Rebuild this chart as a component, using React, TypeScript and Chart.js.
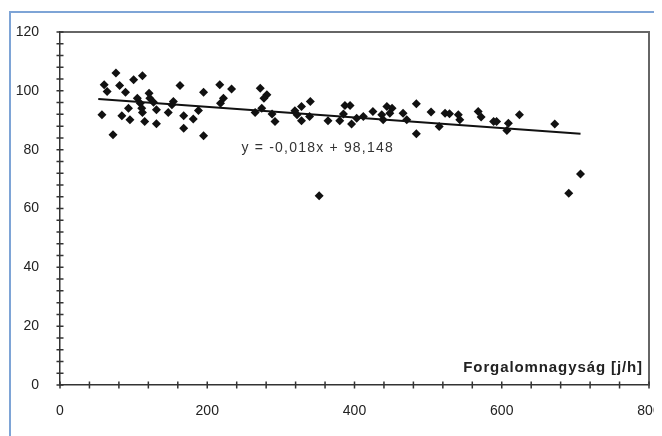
import React, { useEffect, useRef } from 'react';
import { Chart, registerables } from 'chart.js';

Chart.register(...registerables);

// Scatter data (x: Forgalomnagyság [j/h], y: value)
const X_VALUES = [
  76, 112, 100, 60, 81, 64, 89, 163, 195, 121, 105, 122, 109, 127, 154, 152, 93, 111, 131, 147,
  188, 57, 84, 112, 95, 115, 131, 168, 181, 168, 72, 195, 217, 233, 222, 218, 272, 281, 277, 274,
  265, 288, 292, 319, 322, 328, 340, 339, 328, 364, 380, 385, 387, 394, 396, 403, 412, 425, 437, 439,
  444, 451, 448, 466, 471, 484, 484, 504, 515, 523, 529, 541, 543, 568, 572, 589, 593, 609, 607, 624,
  672, 707, 691, 352,
];
const Y_VALUES = [
  106.1, 105.1, 103.8, 102.1, 101.8, 99.8, 99.5, 101.8, 99.5, 99.2, 97.5, 97.5, 95.8, 96.1, 96.4, 95.3, 94.1, 94.1, 93.6, 92.6,
  93.3, 91.9, 91.5, 92.6, 90.2, 89.6, 88.8, 91.5, 90.4, 87.3, 85.1, 84.7, 102.1, 100.6, 97.5, 95.8, 100.9, 98.7, 97.5, 94.1,
  92.6, 92.1, 89.6, 93.2, 91.9, 94.7, 96.4, 91.3, 89.8, 89.8, 89.8, 92.1, 95, 95, 88.7, 90.7, 91.3, 93, 91.9, 90.2,
  94.7, 94.1, 92.4, 92.4, 90.2, 95.6, 85.4, 92.8, 87.9, 92.4, 92.2, 91.9, 90.2, 93, 91.1, 89.6, 89.6, 89, 86.5, 91.9,
  88.7, 71.7, 65.2, 64.3,
];

// Linear trend line: y = -0,018x + 98,148
const TREND_SLOPE = -0.018;
const TREND_INTERCEPT = 98.148;
const TREND_X = [52, 707];

const X_MIN = 0;
const X_MAX = 800;
const X_MAJOR = 200;
const X_MINOR = 40;
const Y_MIN = 0;
const Y_MAX = 120;
const Y_MAJOR = 20;
const Y_MINOR = 4;

const EQUATION_TEXT = 'y = -0,018x + 98,148';
const EQUATION_POS = [350, 80.6];
const X_TITLE = 'Forgalomnagyság [j/h]';

const W = 654;
const H = 428;

const decorPlugin = {
  id: 'decor',
  afterDraw(chart: any) {
    const { ctx, chartArea, scales } = chart;
    const xs = scales.x;
    const ys = scales.y;
    ctx.save();
    // top and right frame lines
    ctx.strokeStyle = '#666';
    ctx.lineWidth = 2;
    ctx.beginPath();
    ctx.moveTo(chartArea.left, chartArea.top);
    ctx.lineTo(chartArea.right, chartArea.top);
    ctx.lineTo(chartArea.right, chartArea.bottom);
    ctx.stroke();

    // crossing tick marks
    ctx.strokeStyle = '#333';
    ctx.lineWidth = 1.5;
    ctx.beginPath();
    for (let v = Y_MIN; v <= Y_MAX; v += Y_MINOR) {
      const py = ys.getPixelForValue(v);
      ctx.moveTo(chartArea.left - 3.5, py);
      ctx.lineTo(chartArea.left + 3.5, py);
    }
    for (let v = X_MIN; v <= X_MAX; v += X_MINOR) {
      const px = xs.getPixelForValue(v);
      ctx.moveTo(px, chartArea.bottom - 3.5);
      ctx.lineTo(px, chartArea.bottom + 3.5);
    }
    ctx.stroke();

    // equation
    ctx.fillStyle = '#333';
    ctx.font = '14px Arial, "Liberation Sans", sans-serif';
    (ctx as any).letterSpacing = '1.2px';
    ctx.textAlign = 'center';
    ctx.textBaseline = 'middle';
    ctx.fillText(EQUATION_TEXT, xs.getPixelForValue(EQUATION_POS[0]), ys.getPixelForValue(EQUATION_POS[1]));

    // axis title
    ctx.fillStyle = '#222';
    ctx.font = 'bold 15px Arial, "Liberation Sans", sans-serif';
    (ctx as any).letterSpacing = '0.9px';
    ctx.textAlign = 'right';
    ctx.textBaseline = 'middle';
    ctx.fillText(X_TITLE, chartArea.right - 6, chartArea.bottom - 17);
    ctx.restore();
  },
};

export default function App() {
  const canvasRef = useRef<HTMLCanvasElement>(null);

  useEffect(() => {
    const canvas = canvasRef.current;
    if (!canvas) return;
    const points = X_VALUES.map((x, i) => ({ x, y: Y_VALUES[i] }));
    const trend = TREND_X.map((x) => ({ x, y: TREND_SLOPE * x + TREND_INTERCEPT }));
    const tickFont = { family: 'Arial, "Liberation Sans", sans-serif', size: 14 };
    const chart = new Chart(canvas, {
      type: 'scatter',
      data: {
        datasets: [
          {
            label: 'trend',
            data: trend,
            showLine: true,
            borderColor: '#111',
            borderWidth: 2,
            pointRadius: 0,
            fill: false,
          } as any,
          {
            label: 'data',
            data: points,
            pointStyle: 'rectRot',
            pointRadius: 4.5,
            pointBackgroundColor: '#111',
            pointBorderColor: '#111',
            pointBorderWidth: 0,
          } as any,
        ],
      },
      options: {
        animation: false,
        responsive: false,
        devicePixelRatio: 1,
        layout: { padding: 0 },
        plugins: { legend: { display: false }, tooltip: { enabled: false } },
        scales: {
          x: {
            type: 'linear',
            min: X_MIN,
            max: X_MAX,
            grid: { display: false },
            border: { display: true, color: '#333', width: 1.5 },
            ticks: { stepSize: X_MAJOR, color: '#222', font: tickFont, padding: 10, maxRotation: 0 },
            afterFit: (s: any) => {
              s.height = 51;
              s.paddingRight = 13;
              s.paddingLeft = 0;
            },
          },
          y: {
            type: 'linear',
            min: Y_MIN,
            max: Y_MAX,
            grid: { display: false },
            border: { display: true, color: '#333', width: 1.5 },
            ticks: { stepSize: Y_MAJOR, color: '#222', font: tickFont, padding: 13 },
            afterFit: (s: any) => {
              s.width = 52;
              s.paddingTop = 24;
              s.paddingBottom = 0;
            },
          },
        },
      },
      plugins: [decorPlugin],
    });
    return () => chart.destroy();
  }, []);

  return (
    <div style={{ position: 'relative', width: W, height: H, overflow: 'hidden', background: '#fff' }}>
      <div
        style={{
          position: 'absolute',
          left: 1,
          top: 3,
          width: W + 20,
          height: H + 20,
          borderTop: '2px solid #7ea4d6',
          borderLeft: '2px solid #7ea4d6',
        }}
      />
      <canvas ref={canvasRef} width={W} height={H} style={{ position: 'absolute', left: 0, top: 0, width: W, height: H }} />
    </div>
  );
}
